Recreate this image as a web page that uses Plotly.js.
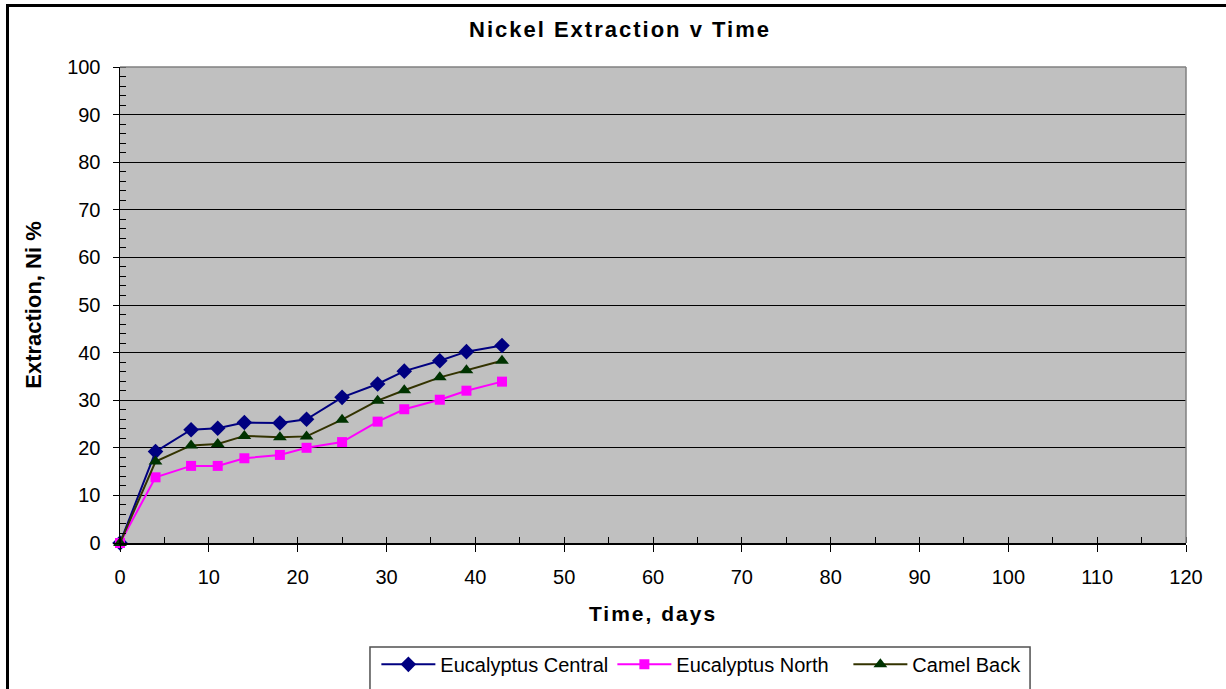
<!DOCTYPE html>
<html>
<head>
<meta charset="utf-8">
<script src="https://cdn.plot.ly/plotly-3.0.1.min.js"></script>
<style>
html,body{margin:0;padding:0;background:#fff;overflow:hidden;}
#frame{position:absolute;left:6px;top:4px;width:1260px;height:720px;border:3px solid #000;box-sizing:border-box;pointer-events:none;}
#chart{position:absolute;left:0;top:0;width:1226px;height:689px;}
.gtitle{letter-spacing:2px;}
.xtitle{letter-spacing:2px;}
</style>
</head>
<body>
<div id="chart"></div>
<div id="frame"></div>
<script>
const days = [0, 4, 8, 11, 14, 18, 21, 25, 29, 32, 36, 39, 43];
const eucalyptusCentral = [0, 19.2, 23.8, 24.1, 25.3, 25.2, 26.0, 30.6, 33.4, 36.1, 38.3, 40.2, 41.5];
const eucalyptusNorth = [0, 13.8, 16.2, 16.2, 17.8, 18.5, 20.0, 21.2, 25.5, 28.1, 30.1, 32.0, 33.9];
const camelBack = [0, 17.1, 20.5, 20.8, 22.5, 22.2, 22.4, 25.9, 29.9, 32.1, 34.8, 36.3, 38.3];

const traces = [
  {x: days, y: eucalyptusCentral, name: 'Eucalyptus Central', mode: 'lines+markers', cliponaxis: false,
   line: {color: '#000080', width: 2}, marker: {symbol: 'diamond', size: 12, color: '#000080'}},
  {x: days, y: eucalyptusNorth, name: 'Eucalyptus North', mode: 'lines+markers', cliponaxis: false,
   line: {color: '#FF00FF', width: 2}, marker: {symbol: 'square', size: 10, color: '#FF00FF'}},
  {x: days, y: camelBack, name: 'Camel Back', mode: 'lines+markers', cliponaxis: false,
   line: {color: '#333300', width: 2}, marker: {symbol: 'triangle-up', size: 12, color: '#003300'}}
];

const font = {family: 'Liberation Sans, Arial, sans-serif', color: '#000'};

const layout = {
  width: 1226, height: 689,
  margin: {l: 120, r: 40, t: 67, b: 146, autoexpand: false},
  paper_bgcolor: '#fff',
  plot_bgcolor: '#C0C0C0',
  showlegend: true,
  font: Object.assign({size: 20}, font),
  title: {text: '<b>Nickel Extraction v Time</b>', x: 0.5057, xref: 'container', xanchor: 'center',
          y: 0.958, yanchor: 'middle', font: Object.assign({size: 22}, font)},
  xaxis: {
    range: [0, 120], tick0: 0, dtick: 10, showgrid: false, zeroline: false,
    showline: true, linecolor: '#000', linewidth: 1.5, mirror: false,
    ticks: 'outside', ticklen: 7, tickcolor: '#000', tickwidth: 1, ticklabelstandoff: 8,
    minor: {dtick: 5, ticks: 'inside', ticklen: 6, tickcolor: '#000', showgrid: false},
    tickfont: Object.assign({size: 20}, font),
    title: {text: '<b>Time, days</b>', font: Object.assign({size: 21}, font), standoff: 20}
  },
  yaxis: {
    range: [0, 100], tick0: 0, dtick: 10, showgrid: true, gridcolor: '#000', gridwidth: 1,
    zeroline: false, showline: true, linecolor: '#000', linewidth: 1.5,
    ticks: 'outside', ticklen: 6, tickcolor: '#000', tickwidth: 1, ticklabelstandoff: 8,
    minor: {dtick: 2, ticks: 'inside', ticklen: 6, tickcolor: '#000', showgrid: false},
    tickfont: Object.assign({size: 20}, font),
    title: {text: '<b>Extraction, Ni %</b>', font: Object.assign({size: 22}, font), standoff: 19}
  },
  shapes: [
    {type: 'line', xref: 'paper', yref: 'paper', x0: 0, x1: 1, y0: 1, y1: 1, line: {color: '#808080', width: 1.5}},
    {type: 'line', xref: 'paper', yref: 'paper', x0: 1, x1: 1, y0: 0, y1: 1, line: {color: '#808080', width: 1.5}},
    {type: 'rect', xref: 'paper', yref: 'paper', x0: 0.2345, x1: 0.8537, y0: -0.2185, y1: -0.34,
     line: {color: '#505050', width: 1.5}, fillcolor: '#fff'}
  ],
  legend: {
    orientation: 'h', x: 0.2405, xanchor: 'left', y: -0.214, yanchor: 'top',
    borderwidth: 0, bgcolor: 'rgba(0,0,0,0)', itemwidth: 54, entrywidth: 167, entrywidthmode: 'pixels',
    font: Object.assign({size: 20}, font)
  }
};

Plotly.newPlot('chart', traces, layout, {displayModeBar: false, staticPlot: true});
</script>
</body>
</html>
